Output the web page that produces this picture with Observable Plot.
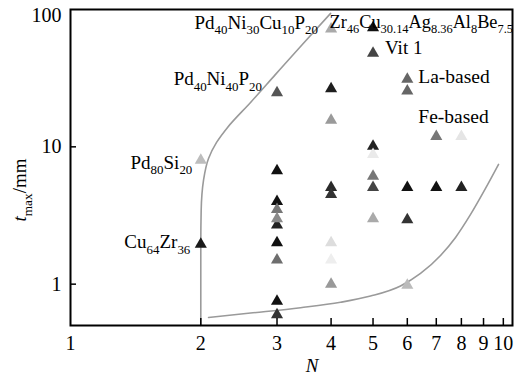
<!DOCTYPE html>
<html><head><meta charset="utf-8">
<script src="https://cdn.jsdelivr.net/npm/d3@7"></script>
<script src="https://cdn.jsdelivr.net/npm/@observablehq/plot@0.6"></script>
<style>
body{margin:0;background:#fff}
svg{font-family:"Liberation Serif",serif}
</style>
</head><body><div id="chart"></div>
<script>
// ---- data ----
const N     = [2, 2,   3,    3,   3,   3,   3,   3,   3,   3,   3,    3,   4,  4,    4,    4,    4,   4,   4,   4,   5,    5,  5,    5,   5,   5,    5,   6,  6,    6,    6,    6,    7,    7,    8,    8];
const tmax  = [8, 1.95,24.8, 2.7, 6.7, 4.0, 3.5, 3.0, 2.0, 1.5, 0.75, 0.6, 72, 26.5, 15.6, 5.05, 4.5, 2.0, 1.5, 1.0, 73.5, 48, 10.1, 8.8, 6.1, 5.05, 3.0, 31, 25.5, 5.05, 2.95, 0.98, 11.9, 5.05, 11.9, 5.05];
const shade = ["#bdbdbd","#1a1a1a","#555555","#222222","#111111","#111111","#777777","#8a8a8a","#111111","#6e6e6e","#111111","#333333",
               "#aaaaaa","#1e1e1e","#9a9a9a","#2a2a2a","#333333","#dddddd","#eeeeee","#999999",
               "#111111","#444444","#222222","#eaeaea","#777777","#444444","#aaaaaa",
               "#666666","#666666","#111111","#333333","#bbbbbb",
               "#777777","#111111","#e5e5e5","#222222"];

const curve1N = [2, 2, 2.004, 2.029, 2.084, 2.175, 2.306, 2.606, 2.977, 3.40, 3.99];
const curve1T = [0.5, 1.98, 3.44, 5.69, 8.23, 10.77, 13.85, 21.05, 33.7, 53.8, 93.7];
const curve2N = [2.084, 2.606, 3.400, 4.206, 4.934, 5.787, 6.437, 7.160, 7.756, 8.401, 9.096, 9.748];
const curve2T = [0.572, 0.616, 0.674, 0.738, 0.819, 0.970, 1.196, 1.618, 2.189, 3.218, 4.977, 7.443];

const xTicks = [1, 2, 3, 4, 5, 6, 7, 8, 9, 10];
const yTicks = [1, 10, 100];

const labelText = ["Pd_{80}Si_{20}", "Cu_{64}Zr_{36}", "Pd_{40}Ni_{40}P_{20}", "Pd_{40}Ni_{30}Cu_{10}P_{20}",
                   "Zr_{46}Cu_{30.14}Ag_{8.36}Al_{8}Be_{7.5}", "Vit 1", "La-based", "Fe-based"];
const labelN = [2, 2, 3, 4, 5, 5, 6, 7];
const labelT = [8, 1.95, 24.8, 72, 73.5, 48, 31, 11.9];

// ---- build ----
const pts = N.map((n, i) => ({n, t: tmax[i], c: shade[i]}));
const c1 = curve1N.map((n, i) => ({n, t: curve1T[i]}));
const c2 = curve2N.map((n, i) => ({n, t: curve2T[i]}));
const FS = 19, TFS = 20;

const plot = Plot.plot({
  width: 514, height: 376,
  marginLeft: 70, marginRight: 2, marginTop: 9, marginBottom: 51,
  style: {fontFamily: "Liberation Serif", fontSize: TFS + "px", background: "#fff", color: "#000"},
  x: {type: "log", domain: [1, 10.5]},
  y: {type: "log", domain: [0.5, 100]},
  color: {type: "identity"},
  marks: [
    Plot.line(c1, {x: "n", y: "t", stroke: "#9a9a9a", strokeWidth: 1.6, curve: "monotone-y"}),
    Plot.line(c2, {x: "n", y: "t", stroke: "#9a9a9a", strokeWidth: 1.6, curve: "monotone-x"}),
    Plot.dot(pts, {x: "n", y: "t", symbol: "triangle", r: 4.5, fill: "c"}),
    Plot.axisX({ticks: xTicks.slice(1), tickFormat: d => String(d), tickSize: -7, tickPadding: 17, strokeWidth: 1.5, label: null, fontSize: TFS}),
    Plot.axisX({ticks: [xTicks[0]], tickFormat: d => String(d), tickSize: 0, tickPadding: 10, label: null, fontSize: TFS}),
    Plot.axisY({ticks: yTicks.slice(0, 2), tickFormat: d => String(d), tickSize: -6, tickPadding: 15, strokeWidth: 1.5, label: null, fontSize: TFS}),
    Plot.axisY({ticks: [yTicks[2]], tickFormat: d => String(d), tickSize: 0, tickPadding: 9, dy: 6, label: null, fontSize: TFS}),
    Plot.frame({stroke: "#000", strokeWidth: 2})
  ]
});
document.getElementById("chart").appendChild(plot);

const sx = plot.scale("x"), sy = plot.scale("y");
const svg = d3.select(plot);
const g = svg.append("g").attr("fill", "#000");

function rich(parent, str, fs) {
  const re = /_\{([^}]*)\}|([^_]+)/g;
  let m, shift = 0;
  const sub = fs * 0.3;
  while ((m = re.exec(str))) {
    if (m[1] !== undefined) {
      parent.append("tspan").attr("font-size", fs * 0.68).attr("dy", sub - shift).text(m[1]);
      shift = sub;
    } else {
      parent.append("tspan").attr("dy", -shift).text(m[2]);
      shift = 0;
    }
  }
}

// label offsets (px) relative to the associated data point, and font size
const offs = [[-8, 9, "end", FS], [-10, 4, "end", FS], [-14.5, -7, "end", FS], [-12.6, 0, "end", FS],
              [-43, 0.5, "start", 18.3], [12.5, 1, "start", FS], [11.5, 4, "start", 19.5], [-17.5, -13, "start", 19.5]];
labelText.forEach((s, i) => {
  const t = g.append("text")
    .attr("x", sx.apply(labelN[i]) + offs[i][0])
    .attr("y", sy.apply(labelT[i]) + offs[i][1])
    .attr("text-anchor", offs[i][2])
    .attr("font-size", offs[i][3]);
  rich(t, s, offs[i][3]);
});

// axis titles
g.append("text").attr("x", 312).attr("y", 372).attr("text-anchor", "middle")
  .attr("font-size", FS).attr("font-style", "italic").text("N");
const yt = g.append("text").attr("transform", "translate(26,190) rotate(-90)")
  .attr("text-anchor", "middle").attr("font-size", FS);
yt.append("tspan").attr("font-style", "italic").text("t");
yt.append("tspan").attr("font-size", FS * 0.7).attr("dy", FS * 0.3).text("max");
yt.append("tspan").attr("dy", -FS * 0.3).text("/mm");
</script>
</body></html>
